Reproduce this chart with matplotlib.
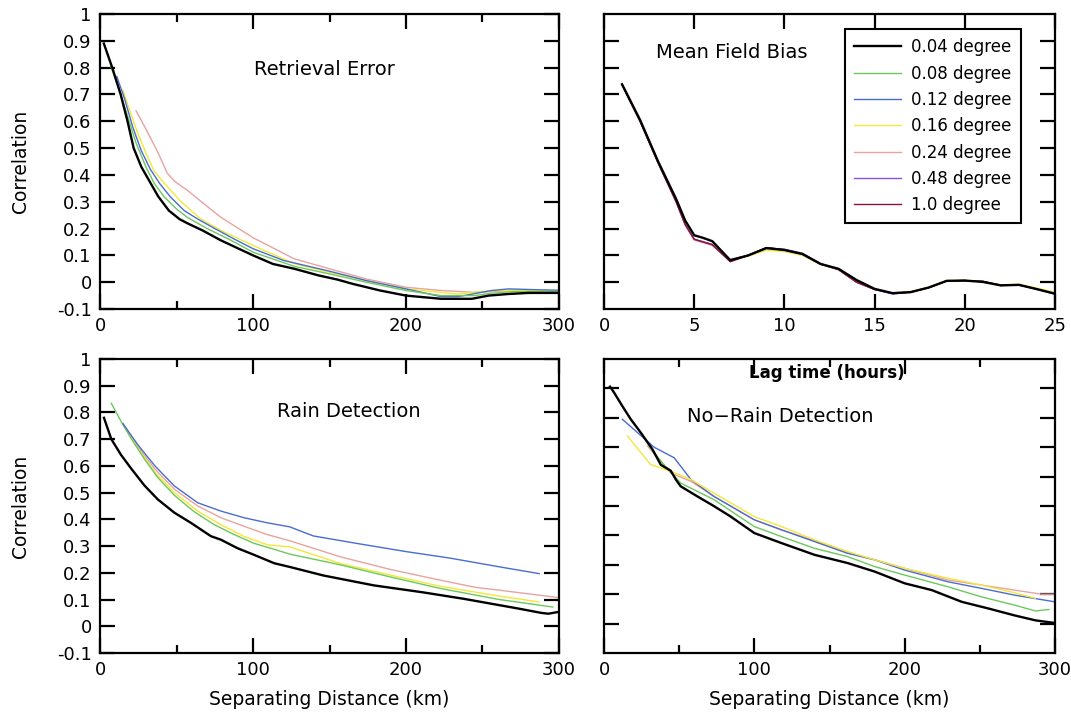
import matplotlib
matplotlib.use('Agg')
import matplotlib.pyplot as plt
import numpy as np

plt.rcParams['font.family'] = ['DejaVu Sans']

# ---------------- data ----------------
series_labels = ['0.04 degree', '0.08 degree', '0.12 degree', '0.16 degree',
                 '0.24 degree', '0.48 degree', '1.0 degree']
series_colors = ['#000000', '#6cc85c', '#4a6cd0', '#f2e83a', '#e6a4a0', '#8a50e0', '#8a1040']

# Retrieval Error (km, correlation)
ret_x_004 = [2.5, 8, 13.5, 18, 22, 27, 32, 38, 45, 52, 57, 67, 79, 91, 100, 113, 127, 143, 155, 165, 183, 200, 223, 243, 254, 267, 280, 300]
ret_y_004 = [0.89, 0.80, 0.70, 0.60, 0.50, 0.43, 0.38, 0.32, 0.267, 0.235, 0.22, 0.193, 0.156, 0.124, 0.10, 0.068, 0.05, 0.025, 0.01, -0.006, -0.031, -0.05, -0.062, -0.062, -0.05, -0.044, -0.04, -0.04]
ret_x_008 = [7, 12.5, 18, 23.5, 30, 35.5, 42, 50, 57, 70, 85, 100, 127, 150, 174, 200, 223, 245, 256, 270, 300]
ret_y_008 = [0.805, 0.72, 0.62, 0.52, 0.43, 0.368, 0.318, 0.273, 0.242, 0.20, 0.158, 0.112, 0.059, 0.031, 0.0, -0.031, -0.05, -0.05, -0.041, -0.035, -0.035]
ret_x_012 = [11, 16, 21.5, 27, 33, 39, 46, 55, 64, 75, 88, 100, 120, 150, 174, 200, 223, 234, 256, 267, 285, 300]
ret_y_012 = [0.767, 0.685, 0.577, 0.49, 0.42, 0.368, 0.318, 0.267, 0.235, 0.20, 0.16, 0.125, 0.081, 0.041, 0.006, -0.025, -0.054, -0.054, -0.031, -0.025, -0.028, -0.03]
ret_x_016 = [15, 19, 24.5, 30, 35.5, 44, 53, 66, 80, 100, 127, 150, 174, 200, 234, 256, 280, 300]
ret_y_016 = [0.716, 0.647, 0.558, 0.482, 0.413, 0.356, 0.30, 0.235, 0.19, 0.137, 0.069, 0.037, 0.006, -0.025, -0.044, -0.031, -0.03, -0.035]
ret_x_024 = [23.5, 30, 38, 44, 49, 57, 68, 79, 100, 127, 150, 174, 200, 223, 245, 256, 267, 300]
ret_y_024 = [0.64, 0.571, 0.482, 0.406, 0.375, 0.343, 0.292, 0.242, 0.166, 0.087, 0.05, 0.012, -0.019, -0.031, -0.038, -0.035, -0.031, -0.035]

# Mean Field Bias (lag hours, correlation)
lag_hours = [1, 2, 3, 4, 4.5, 5, 5.5, 6, 7, 8, 9, 10, 11, 12, 13, 14, 15, 16, 17, 18, 19, 20, 21, 22, 23, 24, 25]
mfb_004 = [0.738, 0.605, 0.45, 0.31, 0.23, 0.175, 0.165, 0.153, 0.082, 0.10, 0.127, 0.12, 0.105, 0.068, 0.05, 0.008, -0.025, -0.041, -0.037, -0.02, 0.005, 0.006, 0.001, -0.012, -0.01, -0.026, -0.043]
mfb_008 = [0.736, 0.60, 0.445, 0.30, 0.215, 0.16, 0.15, 0.14, 0.08, 0.10, 0.127, 0.12, 0.105, 0.068, 0.047, 0.0, -0.027, -0.041, -0.037, -0.02, 0.005, 0.006, 0.003, -0.012, -0.01, -0.026, -0.043]
mfb_012 = [0.736, 0.60, 0.445, 0.30, 0.215, 0.16, 0.15, 0.14, 0.084, 0.10, 0.128, 0.123, 0.108, 0.07, 0.047, 0.0, -0.027, -0.043, -0.037, -0.02, 0.005, 0.006, 0.003, -0.012, -0.01, -0.026, -0.045]
mfb_016 = [0.736, 0.60, 0.445, 0.30, 0.215, 0.16, 0.15, 0.14, 0.08, 0.097, 0.12, 0.114, 0.10, 0.066, 0.047, 0.0, -0.025, -0.04, -0.035, -0.018, 0.006, 0.007, 0.004, -0.01, -0.007, -0.022, -0.038]
mfb_024 = [0.736, 0.60, 0.445, 0.30, 0.213, 0.157, 0.147, 0.137, 0.078, 0.10, 0.127, 0.12, 0.105, 0.068, 0.047, 0.0, -0.027, -0.041, -0.037, -0.02, 0.005, 0.006, 0.003, -0.012, -0.01, -0.026, -0.043]
mfb_048 = [0.736, 0.60, 0.445, 0.30, 0.215, 0.16, 0.15, 0.14, 0.08, 0.10, 0.129, 0.12, 0.105, 0.068, 0.047, 0.0, -0.027, -0.044, -0.038, -0.02, 0.005, 0.006, 0.003, -0.012, -0.01, -0.026, -0.043]
mfb_100 = [0.736, 0.60, 0.445, 0.30, 0.215, 0.16, 0.15, 0.14, 0.076, 0.10, 0.129, 0.121, 0.105, 0.068, 0.047, 0.0, -0.027, -0.041, -0.037, -0.02, 0.005, 0.006, 0.003, -0.012, -0.01, -0.026, -0.043]

# Rain Detection (km, correlation)
rain_x_004 = [2.6, 7.4, 13.9, 20.4, 29, 37.7, 48.6, 59.4, 72.5, 79, 89.9, 100.8, 113.8, 124, 146, 179, 211, 237.5, 261, 273.7, 288.5, 293, 300]
rain_y_004 = [0.78, 0.70, 0.64, 0.59, 0.527, 0.475, 0.425, 0.387, 0.337, 0.324, 0.292, 0.267, 0.236, 0.222, 0.19, 0.153, 0.127, 0.103, 0.079, 0.066, 0.05, 0.047, 0.054]
rain_x_008 = [7.4, 13.9, 20.4, 29, 37.7, 48.6, 61.7, 74.7, 87.8, 100.8, 113.8, 124, 157, 189.5, 222, 261, 296]
rain_y_008 = [0.834, 0.765, 0.702, 0.626, 0.557, 0.49, 0.428, 0.38, 0.343, 0.31, 0.288, 0.27, 0.23, 0.185, 0.142, 0.10, 0.072]
rain_x_012 = [15, 25, 35.9, 48.6, 63.9, 79, 94.2, 109.4, 124, 139.4, 167.8, 200.5, 228.8, 261.4, 287]
rain_y_012 = [0.758, 0.677, 0.60, 0.525, 0.462, 0.431, 0.406, 0.387, 0.372, 0.338, 0.31, 0.279, 0.255, 0.222, 0.197]
rain_x_016 = [15, 25, 35.9, 48.6, 63.9, 79, 94.2, 109.4, 124, 157, 189.5, 222, 261, 287]
rain_y_016 = [0.758, 0.664, 0.576, 0.50, 0.431, 0.38, 0.336, 0.305, 0.297, 0.235, 0.192, 0.15, 0.113, 0.091]
rain_x_024 = [15, 25, 35.9, 48.6, 63.9, 79, 94.2, 109.4, 124, 157, 189.5, 222, 246, 261, 300]
rain_y_024 = [0.758, 0.67, 0.588, 0.513, 0.45, 0.406, 0.374, 0.343, 0.32, 0.26, 0.213, 0.173, 0.145, 0.135, 0.107]

# No-Rain Detection (km, correlation)
nr_x_004 = [4, 6.7, 12.2, 17.8, 24.4, 32.2, 37.8, 44.4, 47.8, 51, 62, 73, 84, 100, 118, 140, 162, 180, 200, 218, 238, 256, 273, 287, 300]
nr_y_004 = [0.906, 0.886, 0.84, 0.795, 0.75, 0.693, 0.64, 0.62, 0.59, 0.567, 0.533, 0.50, 0.465, 0.408, 0.374, 0.334, 0.306, 0.277, 0.237, 0.214, 0.174, 0.151, 0.128, 0.111, 0.102]
nr_x_008 = [4, 12, 18, 25, 32, 40, 51, 73, 100, 118, 140, 162, 180, 200, 229, 251, 273, 287, 296]
nr_y_008 = [0.906, 0.84, 0.795, 0.745, 0.69, 0.64, 0.578, 0.522, 0.43, 0.396, 0.356, 0.328, 0.294, 0.265, 0.225, 0.191, 0.163, 0.143, 0.148]
nr_x_012 = [12.2, 20, 33.3, 46.7, 57.8, 73, 100, 118, 140, 162, 180, 200, 229, 251, 273, 300]
nr_y_012 = [0.795, 0.76, 0.70, 0.664, 0.59, 0.533, 0.453, 0.419, 0.379, 0.339, 0.317, 0.282, 0.242, 0.22, 0.197, 0.174]
nr_x_016 = [15.6, 24.4, 31.1, 44.4, 57.8, 73, 100, 118, 140, 162, 180, 200, 229, 251, 273, 287]
nr_y_016 = [0.738, 0.682, 0.641, 0.618, 0.59, 0.544, 0.464, 0.43, 0.385, 0.345, 0.317, 0.288, 0.254, 0.231, 0.205, 0.186]
nr_x_024 = [29, 44.4, 57.8, 73, 100, 118, 140, 162, 180, 200, 229, 251, 273, 291, 300]
nr_y_024 = [0.704, 0.612, 0.584, 0.533, 0.453, 0.419, 0.382, 0.342, 0.317, 0.288, 0.248, 0.231, 0.214, 0.20, 0.20]

corr_ticks = [-0.1, 0, 0.1, 0.2, 0.3, 0.4, 0.5, 0.6, 0.7, 0.8, 0.9, 1]
corr_tick_labels = ['-0.1', '0', '0.1', '0.2', '0.3', '0.4', '0.5', '0.6', '0.7', '0.8', '0.9', '1']
dist_ticks = [0, 100, 200, 300]
dist_tick_labels = ['0', '100', '200', '300']
lag_ticks = [0, 5, 10, 15, 20, 25]
nr_ticks = [0.1, 0.2, 0.3, 0.4, 0.5, 0.6, 0.7, 0.8, 0.9]

# ---------------- figure ----------------
W, H = 1071, 720
fig = plt.figure(figsize=(W / 100, H / 100), dpi=100)

def rect(l, t, r, b):
    return [l / W, 1 - b / H, (r - l) / W, (b - t) / H]

ax_tl = fig.add_axes(rect(100, 14, 559, 309))
ax_tr = fig.add_axes(rect(604, 14, 1055, 309))
ax_bl = fig.add_axes(rect(100, 359, 559, 653))
ax_br = fig.add_axes(rect(604, 359, 1055, 653))

TICK_FS = 13
LABEL_FS = 13.5
TITLE_FS = 14

def style(ax):
    for s in ax.spines.values():
        s.set_linewidth(1.6)
    ax.tick_params(which='both', direction='in', top=True, right=True,
                   width=1.6, labelsize=TICK_FS, pad=6)
    ax.tick_params(which='major', length=11)
    ax.tick_params(which='minor', length=6)

def dist_axis(ax):
    ax.set_xlim(0, 300)
    ax.set_xticks(dist_ticks)
    ax.set_xticklabels(dist_tick_labels)
    ax.set_xticks([50, 150, 250], minor=True)

lw_black = 1.7
lw_col = 1.0

# Retrieval Error
ax = ax_tl
style(ax)
dist_axis(ax)
ax.set_ylim(-0.1, 1)
ax.set_yticks(corr_ticks)
ax.set_yticklabels(corr_tick_labels)
ax.plot(ret_x_024, ret_y_024, color=series_colors[4], lw=lw_col)
ax.plot(ret_x_016, ret_y_016, color=series_colors[3], lw=lw_col)
ax.plot(ret_x_012, ret_y_012, color=series_colors[2], lw=lw_col)
ax.plot(ret_x_008, ret_y_008, color=series_colors[1], lw=lw_col)
ax.plot(ret_x_004, ret_y_004, color=series_colors[0], lw=lw_black)
ax.text(0.489, 0.811, 'Retrieval Error', transform=ax.transAxes, ha='center', va='center', fontsize=TITLE_FS)
ax.set_ylabel('Correlation', fontsize=LABEL_FS, labelpad=19)

# Mean Field Bias
ax = ax_tr
style(ax)
ax.set_xlim(0, 25)
ax.set_xticks(lag_ticks)
ax.set_ylim(-0.1, 1)
ax.set_yticks(corr_ticks[1:-1])
ax.set_yticklabels([])
mfb_series = [mfb_004, mfb_008, mfb_012, mfb_016, mfb_024, mfb_048, mfb_100]
handles = []
for i in [1, 2, 3, 4, 5, 6, 0]:
    h, = ax.plot(lag_hours, mfb_series[i], color=series_colors[i],
                 lw=lw_black if i == 0 else lw_col, label=series_labels[i])
    handles.append((i, h))
handles = [h for i, h in sorted(handles, key=lambda t: t[0])]
ax.text(0.283, 0.869, 'Mean Field Bias', transform=ax.transAxes, ha='center', va='center', fontsize=TITLE_FS)
leg = ax.legend(handles=handles, labels=series_labels, loc='upper left',
                bbox_to_anchor=(0.535, 0.949), borderaxespad=0, fontsize=12,
                frameon=True, fancybox=False, edgecolor='black', framealpha=1,
                handlelength=2.8, handletextpad=0.6, labelspacing=0.5,
                borderpad=0.55)
leg.get_frame().set_linewidth(1.5)

# Rain Detection
ax = ax_bl
style(ax)
dist_axis(ax)
ax.set_ylim(-0.1, 1)
ax.set_yticks(corr_ticks)
ax.set_yticklabels(corr_tick_labels)
ax.plot(rain_x_024, rain_y_024, color=series_colors[4], lw=lw_col)
ax.plot(rain_x_016, rain_y_016, color=series_colors[3], lw=lw_col)
ax.plot(rain_x_008, rain_y_008, color=series_colors[1], lw=lw_col)
ax.plot(rain_x_012, rain_y_012, color=series_colors[2], lw=lw_col)
ax.plot(rain_x_004, rain_y_004, color=series_colors[0], lw=lw_black)
ax.text(0.541, 0.823, 'Rain Detection', transform=ax.transAxes, ha='center', va='center', fontsize=TITLE_FS)
ax.set_ylabel('Correlation', fontsize=LABEL_FS, labelpad=19)
ax.set_xlabel('Separating Distance (km)', fontsize=LABEL_FS, labelpad=8)

# No-Rain Detection
ax = ax_br
style(ax)
dist_axis(ax)
ax.set_ylim(0, 1)
ax.set_yticks(nr_ticks)
ax.set_yticklabels([])
ax.plot(nr_x_024, nr_y_024, color=series_colors[4], lw=lw_col)
ax.plot(nr_x_012, nr_y_012, color=series_colors[2], lw=lw_col)
ax.plot(nr_x_016, nr_y_016, color=series_colors[3], lw=lw_col)
ax.plot(nr_x_008, nr_y_008, color=series_colors[1], lw=lw_col)
ax.plot(nr_x_004, nr_y_004, color=series_colors[0], lw=lw_black)
ax.text(0.39, 0.806, 'No\u2212Rain Detection', transform=ax.transAxes, ha='center', va='center', fontsize=TITLE_FS)
ax.set_xlabel('Separating Distance (km)', fontsize=LABEL_FS, labelpad=8)
# x-axis label of the Mean Field Bias panel (drawn in the original over the lower panel)
ax.text(0.495, 0.951, 'Lag time (hours)', transform=ax.transAxes, ha='center', va='center',
        fontsize=12, fontweight='bold')

fig.savefig('out.png', dpi=100)
